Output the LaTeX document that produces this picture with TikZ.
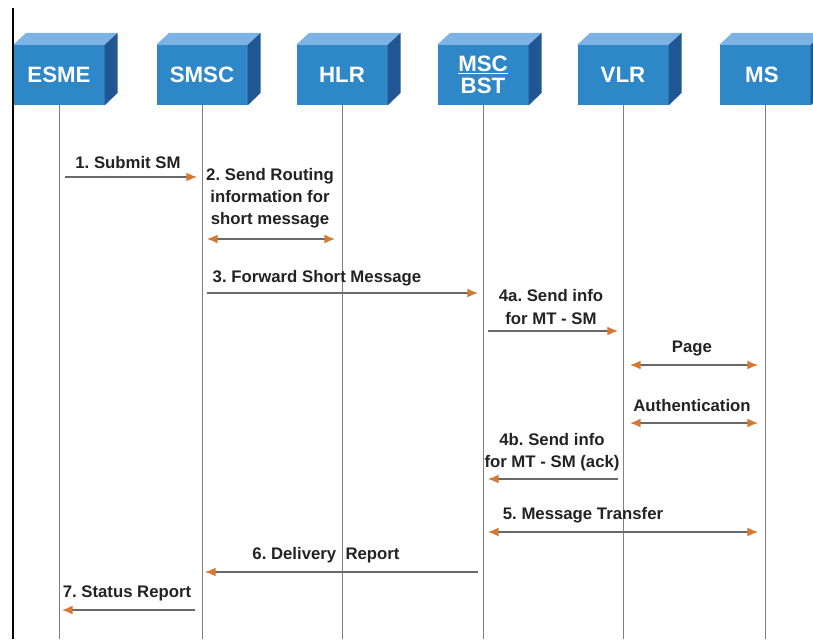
\documentclass[tikz,border=0pt]{standalone}
\usepackage{fontspec}
\setmainfont{Liberation Sans}
\usetikzlibrary{arrows.meta}
\definecolor{frontblue}{RGB}{46,136,200}
\definecolor{topblue}{RGB}{125,178,228}
\definecolor{sideblue}{RGB}{32,86,148}
\definecolor{tiporange}{RGB}{214,120,48}
\definecolor{wire}{RGB}{105,105,105}
\definecolor{ink}{RGB}{35,35,35}
\frenchspacing

\tikzset{
  unit/.style={fill=frontblue, text=white, font=\fontsize{19}{21}\selectfont\bfseries,
    minimum width=2.73cm, minimum height=1.8cm, inner sep=0pt, align=center},
  life/.style={draw=wire!85, line width=0.8pt},
  msg/.style={draw=wire, line width=1.1pt, -{Latex[length=9pt,width=7.5pt,color=tiporange]}},
  dmsg/.style={draw=wire, line width=1.1pt,
    {Latex[length=9pt,width=7.5pt,color=tiporange]}-{Latex[length=9pt,width=7.5pt,color=tiporange]}},
  lbl/.style={text=ink, font=\fontsize{14.3}{19}\selectfont\bfseries, inner sep=0pt, align=center}
}

\begin{document}
\begin{tikzpicture}[x=0.03cm, y=-0.03cm]
  \clip (0,0) rectangle (813,639);
  \fill[white] (0,0) rectangle (813,639);
  \coordinate (bot) at (0,639);

  %% Draw Units
  \foreach \n/\x/\t in {esme/59/ESME,
                        smsc/202/SMSC,
                        hlr/342/HLR,
                        msc/483/{\underline{MSC}\\[-2pt]BST},
                        vlr/623/VLR,
                        ms/765/MS
                        }{
    \node[unit] (\n) at (\x,75) {\t};
    \fill[topblue] (\n.north west) -- ++(13,-12) -- ([shift={(13,-12)}]\n.north east) -- (\n.north east) -- cycle;
    \fill[sideblue] (\n.north east) -- ++(13,-12) -- ++(0,60) -- (\n.south east) -- cycle;
    \draw[life] (\n.south) -- (\n.south |- bot);
  }

  \draw[line width=1.8pt] (13,8) -- (13,639);

  %% Message ends
  \foreach \n/\xa/\xb/\y in {m1/65/197/177,
                             m2/207/335/239,
                             m3/207/478/293,
                             m4/488/618/331,
                             m5/630/758/365,
                             m6/630/758/423,
                             m7/618/488/479,
                             m8/488/758/532,
                             m9/478/205/572,
                             m10/195/62/610
                             }{
    \coordinate (\n-s) at (\xa,\y);
    \coordinate (\n-e) at (\xb,\y);
  }

  %% Draw Messages
  \foreach \n in {m1,m3,m4,m7,m9,m10}{
    \draw[msg] (\n-s) -- (\n-e);
  }
  \foreach \n in {m2,m5,m6,m8}{
    \draw[dmsg] (\n-s) -- (\n-e);
  }

  %% Labels
  \node[lbl] (l1) at (128,163) {1. Submit SM};
  \node[lbl] (l2) at (270,198) {2. Send Routing\\information for\\short message};
  \node[lbl] (l3) at (317,278) {3. Forward Short Message};
  \node[lbl] (l4a) at (551,307) {4a. Send info\\for MT - SM};
  \node[lbl] (lpage) at (692,349) {Page};
  \node[lbl] (lauth) at (692,406) {Authentication};
  \node[lbl] (l4b) at (552,452) {4b. Send info\\for MT - SM (ack)};
  \node[lbl] (l5) at (583,515) {5. Message Transfer};
  \node[lbl] (l6) at (326,555) {6. Delivery\ \ Report};
  \node[lbl] (l7) at (127,593) {7. Status Report};

\end{tikzpicture}
\end{document}
